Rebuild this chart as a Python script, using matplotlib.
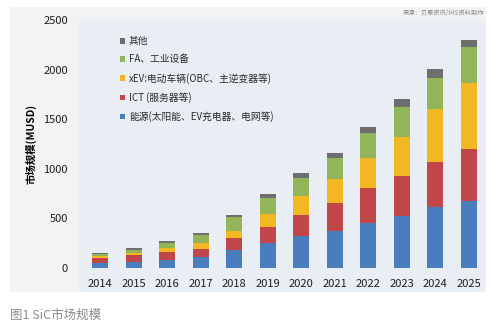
import matplotlib
matplotlib.use("Agg")
import matplotlib.pyplot as plt
from matplotlib.patches import Rectangle
import numpy as np

plt.rcParams['font.family'] = ['Noto Sans CJK SC', 'DejaVu Sans']

years = ["2014", "2015", "2016", "2017", "2018", "2019", "2020",
         "2021", "2022", "2023", "2024", "2025"]
energy = [50, 64, 81, 114, 181, 249, 323, 370, 450, 527, 618, 680]
ict = [55, 64, 84, 81, 118, 161, 214, 288, 359, 403, 454, 516]
xev = [12, 20, 33, 60, 77, 137, 189, 236, 296, 387, 531, 672]
fa = [24, 33, 51, 81, 135, 155, 184, 218, 253, 309, 315, 363]
other = [12, 17, 23, 20, 23, 44, 44, 50, 60, 74, 85, 67]

series = [
    ("能源(太阳能、EV充电器、电网等)", energy, "#4a7dbd"),
    ("ICT (服务器等)", ict, "#c0464a"),
    ("xEV:电动车辆(OBC、主逆变器等)", xev, "#f2b824"),
    ("FA、工业设备", fa, "#93b55a"),
    ("其他", other, "#6e6e6e"),
]

W, H = 490, 326
fig = plt.figure(figsize=(W / 100, H / 100), dpi=100)
fig.patch.set_facecolor("white")

def px_rect(x0, y0, x1, y1, color, z):
    fig.patches.append(Rectangle((x0 / W, 1 - y1 / H), (x1 - x0) / W, (y1 - y0) / H,
                                 transform=fig.transFigure, facecolor=color,
                                 edgecolor="none", zorder=z))

# outer chart frame and the lighter plotting panel
px_rect(10, 7, 486, 292, "#f2f3f4", -3)
px_rect(79, 19, 486, 292, "#e9eef5", -2)

ax = fig.add_axes([79 / W, 1 - 268 / H, (486 - 79) / W, (268 - 20) / H])
ax.set_facecolor("none")

x = np.arange(len(years))
bottom = np.zeros(len(years))
for label, vals, color in series:
    ax.bar(x, vals, 0.48, bottom=bottom, color=color, label=label, zorder=2)
    bottom += np.array(vals)

ax.set_xlim(-0.63, 11.52)
ax.set_ylim(0, 2500)
ax.set_yticks([0, 500, 1000, 1500, 2000, 2500])
ax.set_xticks(x)
ax.set_xticklabels(years)
ax.tick_params(length=0, labelsize=8, colors="#1e1e1e")
ax.tick_params(axis="x", pad=8)
ax.tick_params(axis="y", pad=8)
for s in ax.spines.values():
    s.set_visible(False)
ax.set_ylabel("市场规模(MUSD)", fontsize=7.5, fontweight="bold", labelpad=5)

handles, labels = ax.get_legend_handles_labels()
leg = ax.legend(handles[::-1], labels[::-1], loc="upper left",
                bbox_to_anchor=(0.08, 0.97), frameon=False,
                prop={"size": 7, "weight": "medium"},
                handlelength=0.5, handleheight=0.5, handletextpad=0.4,
                labelspacing=0.85)
for t in leg.get_texts():
    t.set_color("#2a2a2a")

fig.text(484 / W, 1 - 13 / H, "来源：贝恩资讯/IHS资料制作", fontsize=4.5,
         color="#888888", ha="right", va="center")
fig.text(10 / W, 1 - 315 / H, "图1 SiC市场规模", fontsize=9,
         color="#8a8a8a", fontweight="medium", ha="left", va="center")

fig.savefig("out.png", dpi=100)
